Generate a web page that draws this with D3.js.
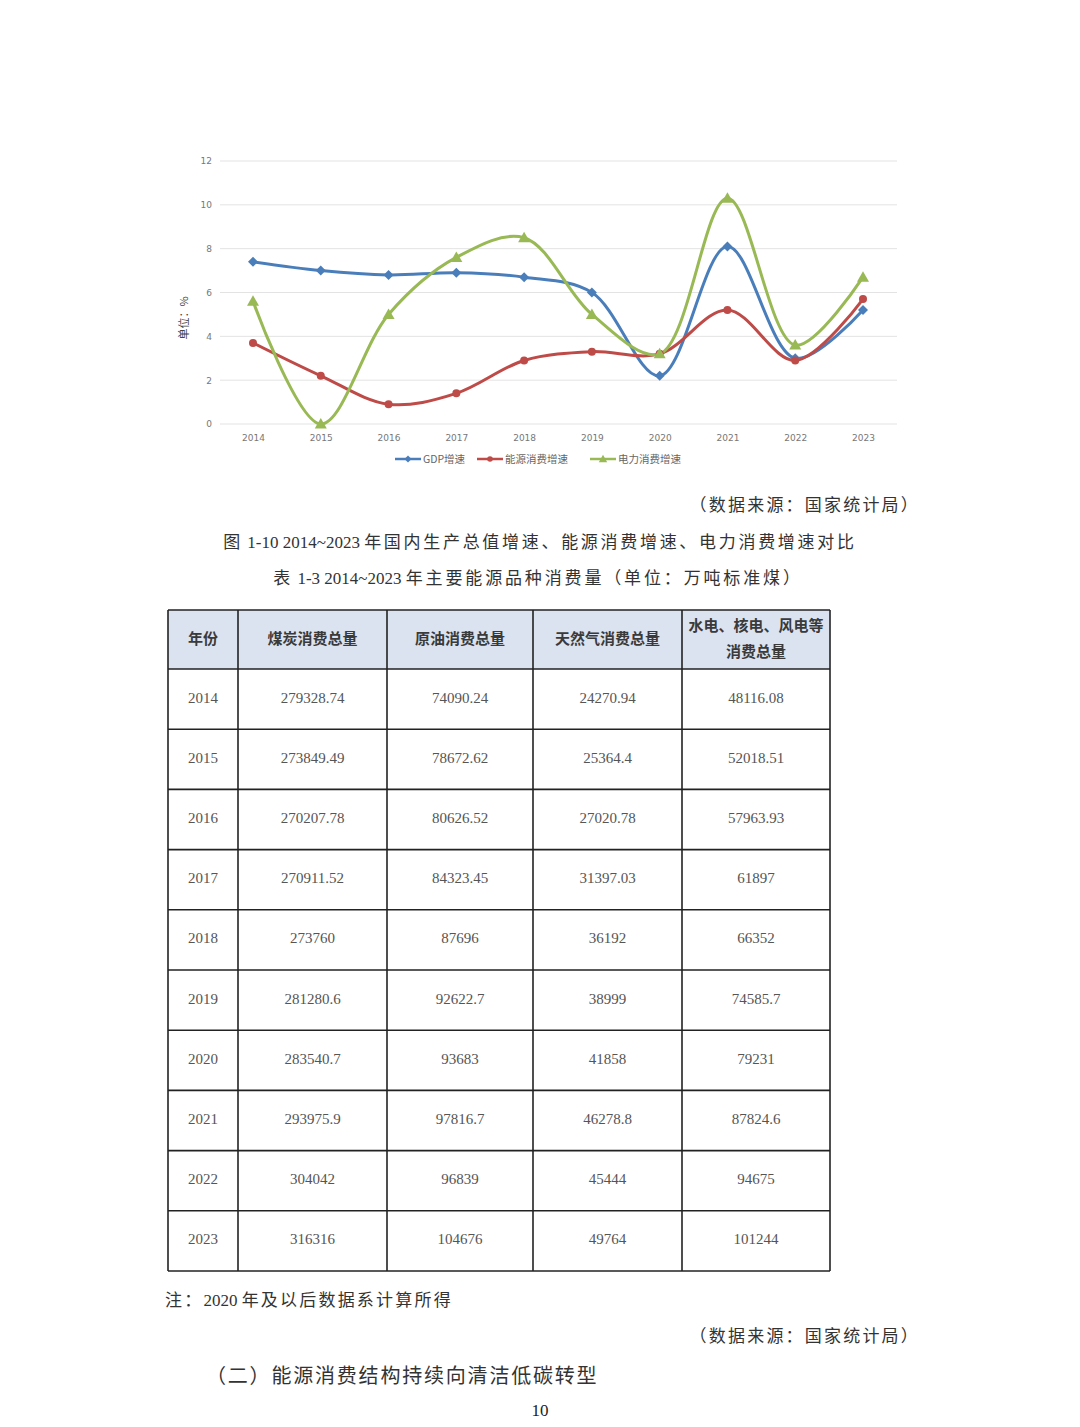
<!DOCTYPE html>
<html><head><meta charset="utf-8">
<script src="https://cdn.jsdelivr.net/npm/d3@7"></script>
<style>
html,body{margin:0;padding:0;background:#fff;}
svg{display:block;}
</style></head>
<body>
<svg id="c" width="1080" height="1427"></svg>
<script>
// ---- Chart data ----
const years = ["2014","2015","2016","2017","2018","2019","2020","2021","2022","2023"];
const gdpGrowth = [7.4, 7.0, 6.8, 6.9, 6.7, 6.0, 2.2, 8.1, 3.0, 5.2];
const energyGrowth = [3.7, 2.2, 0.9, 1.4, 2.9, 3.3, 3.2, 5.2, 2.9, 5.7];
const powerGrowth = [5.6, 0.0, 5.0, 7.6, 8.5, 5.0, 3.2, 10.3, 3.6, 6.7];
const seriesNames = ["GDP增速", "能源消费增速", "电力消费增速"];
const yTicks = [0, 2, 4, 6, 8, 10, 12];

// ---- Table data ----
const tableHeader = ["年份", "煤炭消费总量", "原油消费总量", "天然气消费总量", "水电、核电、风电等|消费总量"];
const coal = ["279328.74","273849.49","270207.78","270911.52","273760","281280.6","283540.7","293975.9","304042","316316"];
const crude = ["74090.24","78672.62","80626.52","84323.45","87696","92622.7","93683","97816.7","96839","104676"];
const gas = ["24270.94","25364.4","27020.78","31397.03","36192","38999","41858","46278.8","45444","49764"];
const clean = ["48116.08","52018.51","57963.93","61897","66352","74585.7","79231","87824.6","94675","101244"];

const svg = d3.select("#c");
const serifCJK = "'Liberation Serif','Noto Sans CJK SC',serif";
const sansCJK = "'Noto Sans CJK SC','Noto Sans',sans-serif";

// ---- Chart ----
const x = d3.scalePoint().domain(years).range([253, 863]);
const y = d3.scaleLinear().domain([0, 12]).range([424, 161]);
const g = svg.append("g");

g.append("g").selectAll("line").data(yTicks).join("line")
  .attr("x1", 220).attr("x2", 897)
  .attr("y1", d => y(d)).attr("y2", d => y(d))
  .attr("stroke", "#e3e3e3").attr("stroke-width", 1);

const yAxis = d3.axisLeft(y).tickValues(yTicks).tickSize(0).tickPadding(0);
const ya = g.append("g").attr("transform", "translate(212,0)").call(yAxis);
ya.select(".domain").remove();
ya.selectAll("text").attr("font-family", "'DejaVu Sans',sans-serif").attr("font-size", 9).attr("fill", "#777");

const xAxis = d3.axisBottom(x).tickSize(0).tickPadding(0);
const xa = g.append("g").attr("transform", "translate(0,435)").call(xAxis);
xa.select(".domain").remove();
xa.selectAll("text").attr("font-family", "'DejaVu Sans',sans-serif").attr("font-size", 9).attr("fill", "#777").attr("dy", "0.71em");

g.append("text").attr("transform", "translate(188,318) rotate(-90)")
  .attr("text-anchor", "middle").attr("font-family", sansCJK).attr("font-size", 11).attr("fill", "#444")
  .text("单位：%");

const colors = ["#4a7ebb", "#be4b48", "#98b954"];
const series = [gdpGrowth, energyGrowth, powerGrowth];
const line = d3.line().x((d, i) => x(years[i])).y(d => y(d)).curve(d3.curveCatmullRom.alpha(0.5));

function marker(sel, k, cx, cy) {
  if (k === 0) {
    sel.append("path").attr("d", `M${cx},${cy-5}L${cx+5},${cy}L${cx},${cy+5}L${cx-5},${cy}Z`).attr("fill", colors[0]);
  } else if (k === 1) {
    sel.append("circle").attr("cx", cx).attr("cy", cy).attr("r", 4).attr("fill", colors[1]);
  } else {
    sel.append("path").attr("d", `M${cx},${cy-6}L${cx+6},${cy+4.5}L${cx-6},${cy+4.5}Z`).attr("fill", colors[2]);
  }
}

series.forEach((s, k) => {
  g.append("path").datum(s).attr("d", line).attr("fill", "none")
    .attr("stroke", colors[k]).attr("stroke-width", 3).attr("stroke-linecap", "round");
});
series.forEach((s, k) => {
  const mg = g.append("g");
  s.forEach((v, i) => marker(mg, k, x(years[i]), y(v)));
});

// legend
const legX = [395, 477, 590];
const leg = g.append("g");
seriesNames.forEach((n, k) => {
  const lx = legX[k], ly = 459;
  leg.append("line").attr("x1", lx).attr("x2", lx + 26).attr("y1", ly).attr("y2", ly)
    .attr("stroke", colors[k]).attr("stroke-width", 2.5);
  const mg = leg.append("g").attr("transform", `translate(${lx+13},${ly}) scale(0.7) translate(${-(lx+13)},${-ly})`);
  marker(mg, k, lx + 13, ly);
  leg.append("text").attr("x", lx + 28).attr("y", ly).attr("dy", "0.35em")
    .attr("font-family", sansCJK).attr("font-size", 10.5).attr("fill", "#666").text(n);
});

// ---- Texts (CJK runs letter-spaced, ASCII runs tight) ----
function txt(t, tx, ty, size, anchor, fam, fill, ls) {
  const el = svg.append("text").attr("x", tx).attr("y", ty).attr("text-anchor", anchor || "start")
    .attr("font-family", fam || serifCJK).attr("font-size", size).attr("fill", fill || "#333")
    .attr("dominant-baseline", "middle");
  const runs = t.match(/[\x00-\x7F]+|[^\x00-\x7F]+/g);
  runs.forEach(r => {
    el.append("tspan").attr("letter-spacing", /^[\x00-\x7F]+$/.test(r) ? 0 : (ls || 0)).text(r);
  });
}
txt("（数据来源：国家统计局）", 920, 507, 17, "end", null, null, 2.2);
txt("图 1-10 2014~2023 年国内生产总值增速、能源消费增速、电力消费增速对比", 540, 544, 17, "middle", null, null, 2.7);
txt("表 1-3 2014~2023 年主要能源品种消费量（单位：万吨标准煤）", 538, 580, 17, "middle", null, null, 2.85);

// ---- Table ----
const colX = [168, 238, 387, 533, 682, 830];
const headTop = 610, headBot = 669, tableBot = 1271;
const rowY = d3.scaleBand().domain(years).range([headBot, tableBot]);
const tb = svg.append("g");
tb.append("rect").attr("x", colX[0]).attr("y", headTop).attr("width", colX[5] - colX[0]).attr("height", headBot - headTop)
  .attr("fill", "#dce3f0");
colX.forEach(cx => tb.append("line").attr("x1", cx).attr("x2", cx).attr("y1", headTop).attr("y2", tableBot)
  .attr("stroke", "#222").attr("stroke-width", 1.6));
[headTop, ...years.map(d => rowY(d)), tableBot].forEach(ry => tb.append("line")
  .attr("x1", colX[0]).attr("x2", colX[5]).attr("y1", ry).attr("y2", ry).attr("stroke", "#222").attr("stroke-width", 1.6));

tableHeader.forEach((h, i) => {
  const cx = (colX[i] + colX[i+1]) / 2;
  const parts = h.split("|");
  parts.forEach((p, j) => {
    const cy = parts.length === 1 ? (headTop + headBot) / 2 : (headTop + headBot) / 2 + (j - 0.5) * 26;
    tb.append("text").attr("x", cx).attr("y", cy).attr("text-anchor", "middle").attr("dominant-baseline", "middle")
      .attr("font-family", sansCJK).attr("font-weight", "bold").attr("font-size", 15).attr("fill", "#3a3a3a").text(p);
  });
});
const cols = [years, coal, crude, gas, clean];
years.forEach((yr, r) => {
  cols.forEach((c, i) => {
    const cx = (colX[i] + colX[i+1]) / 2;
    tb.append("text").attr("x", cx).attr("y", rowY(yr) + rowY.bandwidth() / 2)
      .attr("text-anchor", "middle").attr("dominant-baseline", "middle")
      .attr("font-family", "'Liberation Serif',serif").attr("font-size", 15).attr("fill", "#555").text(c[r]);
  });
});

txt("注：2020 年及以后数据系计算所得", 165, 1302, 17, "start", null, null, 2.2);
txt("（数据来源：国家统计局）", 920, 1338, 17, "end", null, null, 2.2);
txt("（二）能源消费结构持续向清洁低碳转型", 206, 1378, 20, "start", null, null, 1.8);
txt("10", 540, 1412, 17, "middle", "'Liberation Serif',serif", "#222");
</script>
</body></html>
